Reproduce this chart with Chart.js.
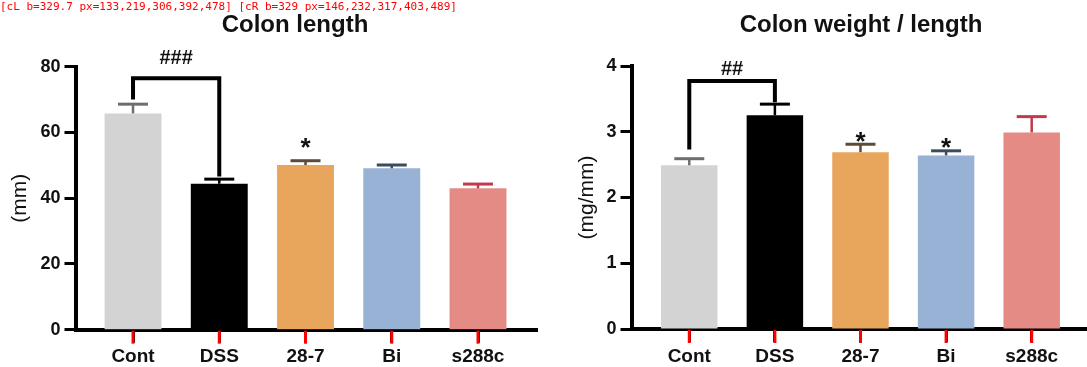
<!DOCTYPE html>
<html>
<head>
<meta charset="utf-8">
<script src="https://cdn.jsdelivr.net/npm/chart.js@4.4.1/dist/chart.umd.min.js"></script>
<style>
  html, body { margin: 0; padding: 0; background: #fff; }
  #wrapL { position: absolute; left: 0; top: 0; width: 543px; height: 367px; }
  #wrapR { position: absolute; left: 543px; top: 0; width: 544px; height: 367px; }
  #dbg { position: absolute; left: 0; top: 0; font: 11px monospace; color: red; }
</style>
</head>
<body>
<div id="wrapL"><canvas id="cL"></canvas></div>
<div id="wrapR"><canvas id="cR"></canvas></div>
<div id="dbg"></div>
<script>
// ---------- data ----------
const categories = ['Cont', 'DSS', '28-7', 'Bi', 's288c'];

const lengthTitle = 'Colon length';
const lengthAxisTitle = '(mm)';
const lengthMeans = [65.8, 44.4, 50.1, 49.1, 43.0];
const lengthSem   = [2.8, 1.4, 1.3, 1.0, 1.3];
const lengthTicks = [0, 20, 40, 60, 80];

const ratioTitle = 'Colon weight / length';
const ratioAxisTitle = '(mg/mm)';
const ratioMeans = [2.49, 3.25, 2.69, 2.64, 2.99];
const ratioSem   = [0.10, 0.17, 0.12, 0.07, 0.24];
const ratioTicks = [0, 1, 2, 3, 4];

const lengthBracket = { from: 0, to: 1, top: 76.5, fromEnd: 70, toEnd: 46.6, label: '###', labelValue: 82.5 };
const lengthStars = [{ x: 2, value: 57.4, label: '*' }];
const ratioBracket = { from: 0, to: 1, top: 3.77, fromEnd: 2.73, toEnd: 3.45, label: '##', labelValue: 3.94 };
const ratioStars = [{ x: 2, value: 2.95, label: '*' }, { x: 3, value: 2.85, label: '*' }];

const barColors = ['#d3d3d3', '#000000', '#e8a65d', '#97b2d4', '#e58b86'];
const errColors = ['#6e6e6e', '#000000', '#5e4a36', '#3b4b60', '#c2394a'];
const FONT = "'Liberation Sans', Arial, sans-serif";
let dbg = '';

function drawCategoryTicks(chart, color) {
  const { ctx, chartArea } = chart;
  const x = chart.scales.x;
  ctx.save();
  ctx.fillStyle = color;
  x.ticks.forEach((t, i) => {
    const px = x.getPixelForTick(i);
    ctx.fillRect(px - 1.5, chartArea.bottom + 1, 3, 13);
  });
  ctx.restore();
  dbg += ' [' + chart.canvas.id + ' b=' + chartArea.bottom + ' px=' + x.ticks.map((t, i) => Math.round(x.getPixelForTick(i))).join(',') + ']';
  document.getElementById('dbg').textContent = dbg;
}

const annotPlugin = {
  id: 'annot',
  afterDatasetsDraw(chart, args, o) {
    const { ctx } = chart;
    const x = chart.scales.x, y = chart.scales.y;
    ctx.save();
    o.means.forEach((m, i) => {
      const px = x.getPixelForValue(i);
      const p0 = y.getPixelForValue(m);
      const p1 = y.getPixelForValue(m + o.sems[i]);
      ctx.strokeStyle = o.errColors[i];
      ctx.lineWidth = 2.5;
      ctx.beginPath(); ctx.moveTo(px, p0); ctx.lineTo(px, p1); ctx.stroke();
      ctx.lineWidth = 3;
      ctx.beginPath(); ctx.moveTo(px - 15, p1); ctx.lineTo(px + 15, p1); ctx.stroke();
    });
    const b = o.bracket;
    const xa = x.getPixelForValue(b.from), xb = x.getPixelForValue(b.to);
    ctx.strokeStyle = '#000';
    ctx.lineWidth = 4;
    ctx.beginPath();
    ctx.moveTo(xa, y.getPixelForValue(b.fromEnd));
    ctx.lineTo(xa, y.getPixelForValue(b.top));
    ctx.lineTo(xb, y.getPixelForValue(b.top));
    ctx.lineTo(xb, y.getPixelForValue(b.toEnd));
    ctx.stroke();
    ctx.fillStyle = '#111';
    ctx.textAlign = 'center';
    ctx.textBaseline = 'middle';
    ctx.font = 'bold 20px ' + FONT;
    ctx.fillText(b.label, (xa + xb) / 2, y.getPixelForValue(b.labelValue));
    ctx.font = 'bold 26px ' + FONT;
    ctx.textBaseline = 'alphabetic';
    o.stars.forEach(s => {
      ctx.fillText(s.label, x.getPixelForValue(s.x), y.getPixelForValue(s.value) + 26 * 0.57);
    });
    ctx.font = 'bold 24px ' + FONT;
    ctx.fillText(o.title, o.titleX, 31.5);
    ctx.restore();
  },
  afterDraw(chart) {
    drawCategoryTicks(chart, 'red');
  }
};

function makeChart(id, cfg) {
  const data = cfg.means.map((v, i) => ({ x: i, y: v }));
  return new Chart(document.getElementById(id), {
    type: 'bar',
    data: { datasets: [{ data: data, backgroundColor: barColors, borderWidth: 0, barPercentage: 0.66, categoryPercentage: 1.0 }] },
    options: {
      responsive: true, maintainAspectRatio: false, animation: false, events: [],
      layout: { padding: { left: 0, right: cfg.padRight, top: cfg.top, bottom: 0 } },
      plugins: {
        legend: { display: false }, tooltip: { enabled: false },
        annot: { means: cfg.means, sems: cfg.sems, errColors: errColors, bracket: cfg.bracket, stars: cfg.stars, title: cfg.title, titleX: cfg.titleX }
      },
      scales: {
        x: {
          type: 'linear', offset: false, min: cfg.xmin, max: cfg.xmax,
          afterBuildTicks: (s) => { s.ticks = categories.map((c, i) => ({ value: i })); },
          afterFit: (s) => { s.height = cfg.xHeight; },
          ticks: { callback: (v) => categories[v], color: '#111', font: { family: FONT, size: 19, weight: 'bold' }, padding: 3, maxRotation: 0, autoSkip: false },
          grid: { offset: false, drawOnChartArea: false, drawTicks: true, tickLength: 13, tickWidth: 3, tickColor: '#000' },
          border: { display: true, color: '#000', width: 4 }
        },
        y: {
          min: cfg.ticks[0], max: cfg.ticks[cfg.ticks.length - 1],
          afterBuildTicks: (s) => { s.ticks = cfg.ticks.map(v => ({ value: v })); },
          afterFit: (s) => { s.width = cfg.yWidth; },
          ticks: { color: '#111', font: { family: FONT, size: 18, weight: 'bold' }, padding: 4 },
          title: { display: true, text: cfg.axisTitle, color: '#111', font: { family: FONT, size: 21, weight: 'normal' }, padding: { top: cfg.yTitlePad, bottom: 0 } },
          grid: { drawOnChartArea: false, drawTicks: true, tickLength: 11, tickWidth: 3, tickColor: '#000' },
          border: { display: true, color: '#000', width: 4 }
        }
      }
    },
    plugins: [annotPlugin]
  });
}

makeChart('cL', {
  means: lengthMeans, sems: lengthSem, ticks: lengthTicks, axisTitle: lengthAxisTitle,
  bracket: lengthBracket, stars: lengthStars, title: lengthTitle, titleX: 295,
  xmin: -0.667, xmax: 4.684, yWidth: 75.5, padRight: 6, top: 66.7, xHeight: 37.3, yTitlePad: 7.4
});
makeChart('cR', {
  means: ratioMeans, sems: ratioSem, ticks: ratioTicks, axisTitle: ratioAxisTitle,
  bracket: ratioBracket, stars: ratioStars, title: ratioTitle, titleX: 318,
  xmin: -0.675, xmax: 4.646, yWidth: 88.5, padRight: 0, top: 66, xHeight: 38, yTitlePad: 31.4
});
</script>
</body>
</html>
